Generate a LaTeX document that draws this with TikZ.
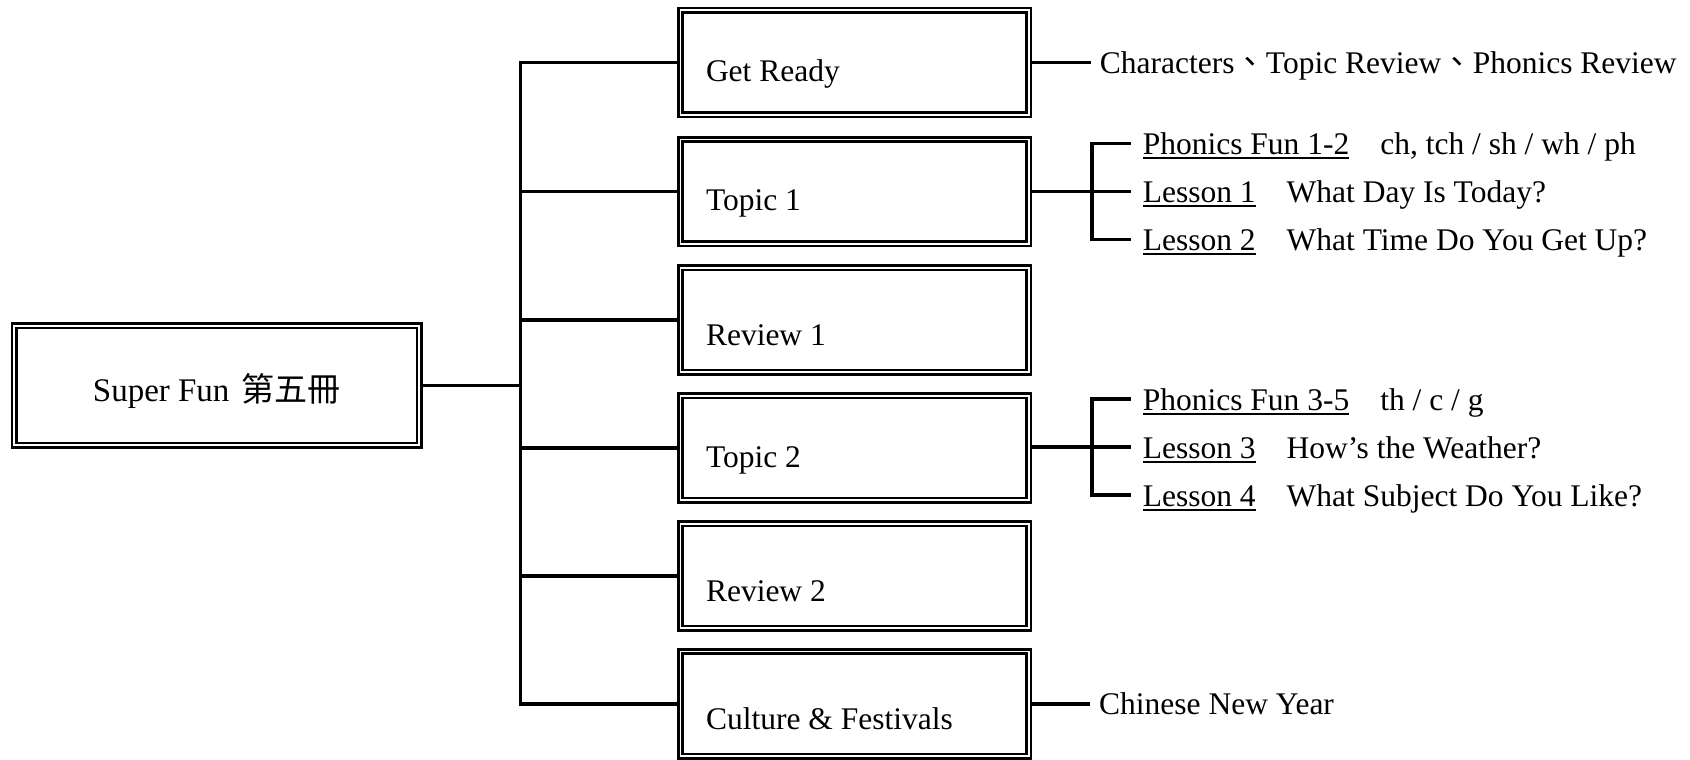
\documentclass[tikz,border=0pt]{standalone}
\usepackage{fontspec}
\setmainfont{Liberation Serif}
\newfontfamily\cjk{Noto Sans CJK TC}
\newcommand\myul[1]{\setbox0\hbox{#1}\rlap{\rule[-4.5pt]{\wd0}{2pt}}\box0}
\begin{document}
\begin{tikzpicture}[x=1pt,y=-1pt,
  dbox/.style={draw, line width=2.6pt, double=white, double distance=1.8pt,
    outer sep=3.5pt, inner ysep=0pt, inner xsep=25.6pt, minimum width=348.2pt,
    minimum height=104.5pt, text width=297pt, align=flush left, text depth=0pt,
    font=\fontsize{31.5}{36}\selectfont},
  hi/.style={text height=38pt},
  lo/.style={text height=51pt},
  mainbox/.style={draw, line width=2.6pt, double=white, double distance=1.8pt,
    outer sep=3.5pt, inner sep=0pt, minimum width=404.9pt, minimum height=119.3pt,
    text height=32pt, text depth=0pt, font=\fontsize{33}{38}\selectfont},
  wire/.style={line width=3.5pt},
  rowtext/.style={anchor=base west, inner xsep=12pt, inner ysep=0pt, yshift=-11pt,
    font=\fontsize{31.5}{36}\selectfont},
  sidetext/.style={anchor=base west, inner xsep=8.6pt, inner ysep=0pt, yshift=-11pt,
    font=\fontsize{31.5}{36}\selectfont}
]
\useasboundingbox[fill=white] (0,0) rectangle (1690,760);

% main node
\node[mainbox] (main) at (216.7,385.35) {Super Fun\hspace{12pt}{\cjk 第五冊}};

% second level boxes
\node[dbox,hi] (gr) at (854.5,62.5) {Get Ready};
\node[dbox,hi] (t1) at (854.5,191.7) {Topic 1};
\node[dbox,lo] (r1) at (854.5,320) {Review 1};
\node[dbox,hi] (t2) at (854.5,448) {Topic 2};
\node[dbox,lo] (r2) at (854.5,576) {Review 2};
\node[dbox,lo] (cf) at (854.5,703.8) {Culture \& Festivals};

% trunk
\coordinate (trunk) at (520.5,385.35);
\draw[wire] (main.east) -- (trunk);
\draw[wire] (gr.west) -- (gr.west -| trunk) -- (cf.west -| trunk) -- (cf.west);
\foreach \n in {t1,r1,t2,r2} \draw[wire] (\n.west -| trunk) -- (\n.west);

% Get Ready details
\node[sidetext] (grtx) at (1091,62.5) {Characters{\cjk 、}Topic Review{\cjk 、}Phonics Review};
\draw[wire] (gr.east) -- (gr.east -| grtx.west);

% Topic 1 details
\coordinate (k1) at (1092,191.7);
\coordinate (e11) at (1130.6,143.7);
\coordinate (e12) at (1130.6,191.7);
\coordinate (e13) at (1130.6,239.7);
\node[rowtext] (p12) at (e11) {\myul{Phonics Fun 1-2}\hspace{31pt}ch, tch / sh / wh / ph};
\node[rowtext] (ls1) at (e12) {\myul{Lesson 1}\hspace{31pt}What Day Is Today?};
\node[rowtext] (ls2) at (e13) {\myul{Lesson 2}\hspace{31pt}What Time Do You Get Up?};
\draw[wire] (e11) -- (e11 -| k1) -- (e13 -| k1) -- (e13);
\draw[wire] (t1.east) -- (e12);

% Topic 2 details
\coordinate (k2) at (1092,447);
\coordinate (e21) at (1130.6,399);
\coordinate (e22) at (1130.6,447);
\coordinate (e23) at (1130.6,495);
\node[rowtext] (p35) at (e21) {\myul{Phonics Fun 3-5}\hspace{31pt}th / c / g};
\node[rowtext] (ls3) at (e22) {\myul{Lesson 3}\hspace{31pt}How’s the Weather?};
\node[rowtext] (ls4) at (e23) {\myul{Lesson 4}\hspace{31pt}What Subject Do You Like?};
\draw[wire] (e21) -- (e21 -| k2) -- (e23 -| k2) -- (e23);
\draw[wire] (t2.east |- e22) -- (e22);

% Culture details
\node[sidetext] (cftx) at (1090.4,703.8) {Chinese New Year};
\draw[wire] (cf.east) -- (cf.east -| cftx.west);
\end{tikzpicture}
\end{document}
